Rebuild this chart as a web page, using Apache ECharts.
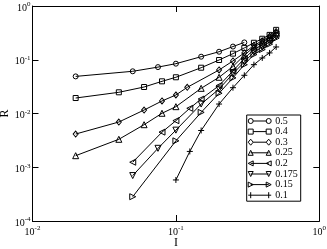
<!DOCTYPE html>
<html>
<head>
<meta charset="utf-8">
<script src="https://cdn.jsdelivr.net/npm/echarts@6/dist/echarts.min.js"></script>
<style>html,body{margin:0;padding:0;background:#fff}#c{width:327px;height:249px}</style>
</head>
<body>
<div id="c"></div>
<script>
// ---- data ----
const names = ['0.5', '0.4', '0.3', '0.25', '0.2', '0.175', '0.15', '0.1'];

const I_a = [0.02, 0.05, 0.075, 0.1, 0.15, 0.2, 0.25, 0.3];
const R_a = [0.049, 0.061, 0.073, 0.0845, 0.114, 0.141, 0.176, 0.21];

const I_b = [0.02, 0.04, 0.06, 0.08, 0.1, 0.15, 0.2, 0.25, 0.3, 0.35, 0.4, 0.45, 0.5];
const R_b = [0.0194, 0.0248, 0.0311, 0.0397, 0.0472, 0.0711, 0.0989, 0.13, 0.166, 0.207, 0.246, 0.29, 0.36];

const I_c = [0.02, 0.04, 0.06, 0.08, 0.1, 0.12, 0.2, 0.25, 0.3, 0.35, 0.4, 0.45, 0.5];
const R_c = [0.00415, 0.00694, 0.0116, 0.0171, 0.0221, 0.0307, 0.0645, 0.095, 0.134, 0.185, 0.225, 0.272, 0.335];

const I_d = [0.02, 0.04, 0.06, 0.08, 0.1, 0.15, 0.2, 0.25, 0.3, 0.35, 0.4, 0.45, 0.5];
const R_d = [0.00164, 0.00331, 0.00619, 0.0101, 0.0134, 0.0294, 0.0472, 0.075, 0.121, 0.172, 0.212, 0.258, 0.318];

const I_e = [0.05, 0.08, 0.1, 0.125, 0.15, 0.2, 0.25, 0.3, 0.35, 0.4, 0.45, 0.5];
const R_e = [0.00124, 0.0045, 0.00735, 0.0125, 0.0186, 0.033, 0.062, 0.105, 0.155, 0.19, 0.236, 0.298];

const I_f = [0.05, 0.075, 0.1, 0.15, 0.2, 0.25, 0.3, 0.35, 0.4, 0.45, 0.5];
const R_f = [0.0007, 0.00225, 0.0049, 0.015, 0.0285, 0.055, 0.0908, 0.139, 0.172, 0.216, 0.275];

const I_g = [0.05, 0.1, 0.15, 0.2, 0.25, 0.3, 0.35, 0.4, 0.45, 0.5];
const R_g = [0.000283, 0.0031, 0.0105, 0.0238, 0.046, 0.081, 0.125, 0.155, 0.195, 0.252];

const I_h = [0.1, 0.125, 0.15, 0.2, 0.25, 0.3, 0.35, 0.4, 0.45, 0.5];
const R_h = [0.00058, 0.00197, 0.00483, 0.015, 0.0302, 0.0514, 0.081, 0.108, 0.134, 0.173];

const xTicks = [0.01, 0.1, 1];
const yTicks = [0.0001, 0.001, 0.01, 0.1, 1];

// ---- styling ----
const FONT = 'Liberation Serif';
const seriesX = [I_a, I_b, I_c, I_d, I_e, I_f, I_g, I_h];
const seriesY = [R_a, R_b, R_c, R_d, R_e, R_f, R_g, R_h];
const PLUS = 'path://M0,5L10,5M5,0L5,10';
const symbols = [
  {symbol: 'circle', size: 5, rot: 0},
  {symbol: 'rect', size: 5, rot: 0},
  {symbol: 'diamond', size: [5, 6], rot: 0},
  {symbol: 'triangle', size: 6, rot: 0},
  {symbol: 'triangle', size: 6, rot: 90},
  {symbol: 'triangle', size: 6, rot: 180},
  {symbol: 'triangle', size: 6, rot: -90},
  {symbol: PLUS, size: 6, rot: 0}
];
const legendIcons = [
  'path://M0,3A2.5,2.5,0,1,1,5,3A2.5,2.5,0,1,1,0,3ZM5,3L18,3M18,3A2.5,2.5,0,1,1,23,3A2.5,2.5,0,1,1,18,3Z',
  'path://M0,0.5L5,0.5L5,5.5L0,5.5ZM5,3L18,3M18,0.5L23,0.5L23,5.5L18,5.5Z',
  'path://M0,3L2.5,0L5,3L2.5,6ZM5,3L18,3M18,3L20.5,0L23,3L20.5,6Z',
  'path://M0,5.5L2.5,0.5L5,5.5ZM2.5,3L20.5,3M18,5.5L20.5,0.5L23,5.5Z',
  'path://M0,3L5,0.5L5,5.5ZM2.5,3L20.5,3M18,3L23,0.5L23,5.5Z',
  'path://M0,0.5L5,0.5L2.5,5.5ZM2.5,3L20.5,3M18,0.5L23,0.5L20.5,5.5Z',
  'path://M0,0.5L5,3L0,5.5ZM2.5,3L20.5,3M18,0.5L23,3L18,5.5Z',
  'path://M0,3L23,3M2.5,0L2.5,6M20.5,0L20.5,6'
];

function supLabel(v) {
  const e = Math.round(Math.log10(v));
  return '{b|10}{s|' + e + '}';
}
const rich = {
  b: {fontFamily: FONT, fontSize: 10, color: '#000'},
  s: {fontFamily: FONT, fontSize: 7, color: '#000', padding: [0, 0, 7, 0]}
};
const axisLineStyle = {show: true, onZero: false, lineStyle: {color: '#000', width: 1}};
const tickStyle = {show: true, inside: true, length: 6, lineStyle: {color: '#000', width: 1}};

const series = names.map((n, k) => ({
  name: n,
  type: 'line',
  xAxisIndex: 0,
  yAxisIndex: 0,
  data: seriesX[k].map((x, i) => [x, seriesY[k][i]]),
  symbol: symbols[k].symbol,
  symbolSize: symbols[k].size,
  symbolRotate: symbols[k].rot,
  showAllSymbol: true,
  lineStyle: {color: '#000', width: 1},
  itemStyle: {color: 'rgba(0,0,0,0)', borderColor: '#000', borderWidth: 1},
  emphasis: {disabled: true},
  animation: false,
  z: 2
}));

const chart = echarts.init(document.getElementById('c'), null, {renderer: 'canvas'});
chart.setOption({
  animation: false,
  backgroundColor: '#fff',
  grid: {left: 32.5, right: 7.7, top: 6, bottom: 28, containLabel: false, outerBoundsMode: 'none'},
  xAxis: [
    {type: 'log', logBase: 10, min: xTicks[0], max: xTicks[xTicks.length - 1], position: 'bottom',
     axisLine: axisLineStyle, axisTick: tickStyle, splitLine: {show: false}, minorTick: {show: false},
     axisLabel: {formatter: supLabel, rich: rich, margin: 4, color: '#000'},
     name: 'I', nameLocation: 'middle', nameGap: 15.5, nameMoveOverlap: false,
     nameTextStyle: {fontFamily: FONT, fontSize: 12, color: '#000'}},
    {type: 'log', logBase: 10, min: xTicks[0], max: xTicks[xTicks.length - 1], position: 'top',
     axisLine: axisLineStyle, axisTick: tickStyle, splitLine: {show: false}, axisLabel: {show: false}}
  ],
  yAxis: [
    {type: 'log', logBase: 10, min: yTicks[0], max: yTicks[yTicks.length - 1], position: 'left',
     axisLine: axisLineStyle, axisTick: tickStyle, splitLine: {show: false}, minorTick: {show: false},
     axisLabel: {formatter: supLabel, rich: rich, margin: 2, color: '#000', padding: [4, 0, 0, 0]},
     name: 'R', nameLocation: 'middle', nameGap: 22, nameMoveOverlap: false,
     nameTextStyle: {fontFamily: FONT, fontSize: 12, color: '#000'}},
    {type: 'log', logBase: 10, min: yTicks[0], max: yTicks[yTicks.length - 1], position: 'right',
     axisLine: axisLineStyle, axisTick: tickStyle, splitLine: {show: false}, axisLabel: {show: false}}
  ],
  legend: {
    orient: 'vertical',
    right: 26.3,
    top: 115,
    data: names.map((n, k) => ({name: n, icon: legendIcons[k]})),
    itemWidth: 23,
    itemHeight: 6,
    itemGap: 0.6,
    padding: [1, 3, 1, 1],
    borderColor: '#000',
    borderWidth: 1,
    borderRadius: 0,
    backgroundColor: '#fff',
    selectedMode: false,
    itemStyle: {color: 'rgba(0,0,0,0)', borderColor: '#000', borderWidth: 1},
    lineStyle: {opacity: 0},
    textStyle: {fontFamily: FONT, fontSize: 10, lineHeight: 10, color: '#000', padding: [0, 0, 0, -1]}
  },
  series: series
});
</script>
</body>
</html>
